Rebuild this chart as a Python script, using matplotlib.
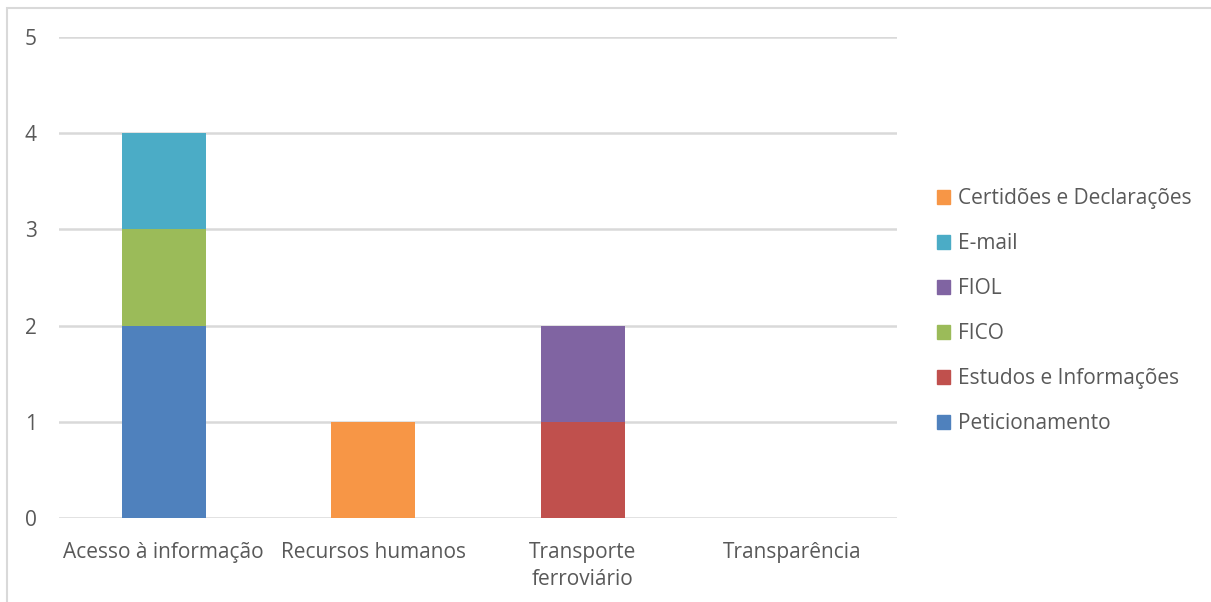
import matplotlib
matplotlib.use("Agg")
import matplotlib.pyplot as plt
from matplotlib.patches import Rectangle, Patch
import numpy as np

plt.rcParams["font.family"] = ["Open Sans", "DejaVu Sans"]

categories = ["Acesso à informação", "Recursos humanos", "Transporte\nferroviário", "Transparência"]
# stacking order, bottom to top
series = [
    ("Peticionamento",          [2, 0, 0, 0], "#4F81BD"),
    ("Estudos e Informações",   [0, 0, 1, 0], "#C0504D"),
    ("FICO",                    [1, 0, 0, 0], "#9BBB59"),
    ("FIOL",                    [0, 0, 1, 0], "#8064A2"),
    ("E-mail",                  [1, 0, 0, 0], "#4BACC6"),
    ("Certidões e Declarações", [0, 1, 0, 0], "#F79646"),
]

fig = plt.figure(figsize=(12.11, 6.02), dpi=100)
ax = fig.add_axes([59 / 1211, 1 - 518 / 602, (897 - 59) / 1211, (518 - 37) / 602])

x = np.arange(len(categories))
bottom = np.zeros(len(categories))
for name, vals, color in series:
    vals = np.array(vals, dtype=float)
    ax.bar(x, vals, bottom=bottom, width=0.4, color=color, label=name, zorder=3)
    bottom += vals

ax.set_xlim(-0.5, len(categories) - 0.5)
ax.set_ylim(0, 5)
ax.set_yticks(range(6))
ax.set_xticks(x)
ax.set_xticklabels(categories, linespacing=1.4)
ax.yaxis.grid(True, color="#D9D9D9", linewidth=1.8, zorder=0)
ax.set_axisbelow(True)
for s in ax.spines.values():
    s.set_visible(False)
ax.tick_params(axis="both", length=0, labelsize=15, colors="#595959")
ax.tick_params(axis="y", pad=16)
ax.tick_params(axis="x", pad=17)

# outer chart border
fig.patches.append(Rectangle((7 / 1211, -0.1), 1.2, 1 - 8 / 602 + 0.1,
                             transform=fig.transFigure, fill=False,
                             edgecolor="#D9D9D9", linewidth=1.5))

handles = [Patch(color=c, label=n) for n, _, c in series][::-1]
fig.legend(handles=handles, loc="center left", bbox_to_anchor=(918 / 1211, 1 - 311 / 602),
           frameon=False, fontsize=15, labelcolor="#595959",
           handlelength=0.65, handleheight=0.65, handletextpad=0.35, labelspacing=1.15)

fig.savefig("out.png", dpi=100, facecolor="white")
